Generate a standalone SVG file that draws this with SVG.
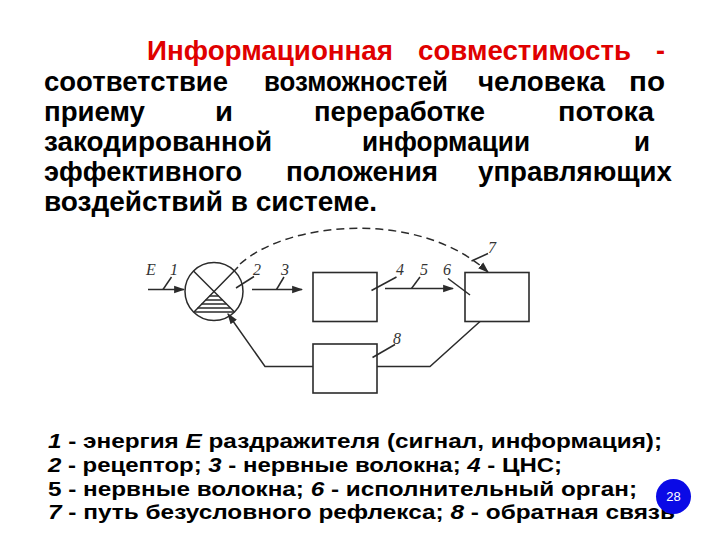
<svg xmlns="http://www.w3.org/2000/svg" width="720" height="540" viewBox="0 0 720 540">
<style>
.t{font-family:"Liberation Sans",Arial,sans-serif;font-weight:bold;font-size:27px;fill:#000}
.red{fill:#e00000}
.b{font-family:"Liberation Sans",Arial,sans-serif;font-weight:bold;font-size:21px;fill:#000}
.i{font-style:italic}
.ln{fill:none;stroke:#2b2b2b;stroke-width:1.5}
.lab{font-family:"Liberation Serif","Times New Roman",serif;font-style:italic;font-size:16px;fill:#333}
.box{fill:#fff;stroke:#2b2b2b;stroke-width:1.6}
</style>
<defs>
<marker id="ah" viewBox="0 0 10 10" refX="9" refY="5" markerWidth="11" markerHeight="11" markerUnits="userSpaceOnUse" orient="auto">
<path d="M0,1.5 L10,5 L0,8.5 Z" fill="#2b2b2b"/>
</marker>
</defs>
<rect width="720" height="540" fill="#fff"/>
<g id="title">
<text class="t red" x="147" y="60" textLength="246" lengthAdjust="spacingAndGlyphs">Информационная</text>
<text class="t red" x="418" y="60" textLength="213" lengthAdjust="spacingAndGlyphs">совместимость</text>
<text class="t red" x="665" y="60" text-anchor="end">-</text>
<text class="t" x="44" y="91" textLength="184" lengthAdjust="spacingAndGlyphs">соответствие</text>
<text class="t" x="264" y="91" textLength="184" lengthAdjust="spacingAndGlyphs">возможностей</text>
<text class="t" x="478" y="91" textLength="127" lengthAdjust="spacingAndGlyphs">человека</text>
<text class="t" x="629" y="91" textLength="36" lengthAdjust="spacingAndGlyphs">по</text>
<text class="t" x="44" y="121" textLength="101" lengthAdjust="spacingAndGlyphs">приему</text>
<text class="t" x="215" y="121" textLength="18" lengthAdjust="spacingAndGlyphs">и</text>
<text class="t" x="314" y="121" textLength="171" lengthAdjust="spacingAndGlyphs">переработке</text>
<text class="t" x="558" y="121" textLength="96" lengthAdjust="spacingAndGlyphs">потока</text>
<text class="t" x="44" y="151" textLength="228" lengthAdjust="spacingAndGlyphs">закодированной</text>
<text class="t" x="362" y="151" textLength="168" lengthAdjust="spacingAndGlyphs">информации</text>
<text class="t" x="634" y="151" textLength="16" lengthAdjust="spacingAndGlyphs">и</text>
<text class="t" x="44" y="181" textLength="198" lengthAdjust="spacingAndGlyphs">эффективного</text>
<text class="t" x="286" y="181" textLength="152" lengthAdjust="spacingAndGlyphs">положения</text>
<text class="t" x="478" y="181" textLength="194" lengthAdjust="spacingAndGlyphs">управляющих</text>
<text class="t" x="44" y="211" textLength="333" lengthAdjust="spacingAndGlyphs">воздействий в системе.</text>
</g>
<g id="receptor">
<circle cx="214" cy="291.5" r="29" class="ln"/>
<path class="ln" d="M193.5,271 L234.5,312 M194,312 L238,267"/>
<path class="ln" d="M209.5,296 H218.5 M205.5,300 H222.5 M201.5,304 H226.5 M197.5,308 H230.5 M194.5,312 H233.5"/>
</g>
<g id="cns"><rect class="box" x="313" y="272.5" width="64" height="49"/></g>
<g id="effector"><rect class="box" x="465" y="272.5" width="64" height="49"/></g>
<g id="feedback"><rect class="box" x="313" y="344" width="64" height="49"/></g>
<g id="connectors">
<path class="ln" d="M148,289.5 H184" marker-end="url(#ah)"/>
<path class="ln" d="M252,289.5 H302" marker-end="url(#ah)"/>
<path class="ln" d="M385,288.5 H453" marker-end="url(#ah)"/>
<path class="ln" d="M240,264 C290,220 420,210 488,272" stroke-dasharray="8 5" marker-end="url(#ah)"/>
<path class="ln" d="M480,321.5 L430,366.5 H377"/>
<path class="ln" d="M313,366.5 H265 L228,314" marker-end="url(#ah)"/>
</g>
<g id="labels">
<text class="lab" x="146" y="275">E</text>
<text class="lab" x="170" y="275">1</text>
<path class="ln" stroke-width="1" d="M163,289.5 L171.5,277"/>
<text class="lab" x="253" y="275">2</text>
<path class="ln" stroke-width="1" d="M236,288 L254,276.5"/>
<text class="lab" x="281" y="275">3</text>
<path class="ln" stroke-width="1" d="M276.5,289.5 L284,277"/>
<text class="lab" x="396" y="275">4</text>
<path class="ln" stroke-width="1" d="M371.5,290.5 L396.5,277"/>
<text class="lab" x="420" y="275">5</text>
<path class="ln" stroke-width="1" d="M411.5,288.5 L420,277"/>
<text class="lab" x="443" y="275">6</text>
<path class="ln" stroke-width="1" d="M448,278.5 L470,295"/>
<text class="lab" x="488" y="253">7</text>
<path class="ln" stroke-width="1" d="M471.5,261 L488,253.5"/>
<text class="lab" x="393" y="344">8</text>
<path class="ln" stroke-width="1" d="M372.5,357.5 L395,344.5"/>
</g>
<g id="legend">
<text class="b" x="48" y="448" textLength="614" lengthAdjust="spacingAndGlyphs"><tspan class="i">1</tspan> - энергия <tspan class="i">E</tspan> раздражителя (сигнал, информация);</text>
<text class="b" x="48" y="472" textLength="514" lengthAdjust="spacingAndGlyphs"><tspan class="i">2</tspan> - рецептор; <tspan class="i">3</tspan> - нервные волокна; <tspan class="i">4</tspan> - ЦНС;</text>
<text class="b" x="48" y="496" textLength="589" lengthAdjust="spacingAndGlyphs">5 - нервные волокна; <tspan class="i">6</tspan> - исполнительный орган;</text>
<text class="b" x="48" y="519" textLength="627" lengthAdjust="spacingAndGlyphs"><tspan class="i">7</tspan> - путь безусловного рефлекса; <tspan class="i">8</tspan> - обратная связь</text>
</g>
<g id="page-number">
<circle cx="673.5" cy="496.5" r="17.5" fill="#0a0ae6"/>
<text x="673.5" y="501" text-anchor="middle" font-family="Liberation Sans,Arial,sans-serif" font-size="13" fill="#fff">28</text>
</g>
</svg>
